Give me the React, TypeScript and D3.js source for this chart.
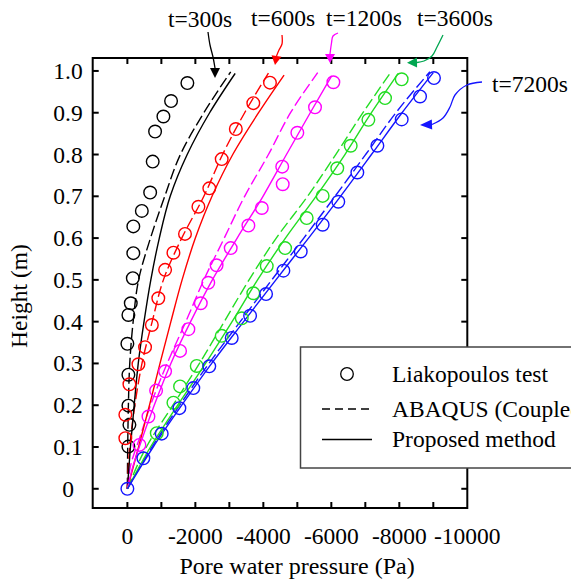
import React, { useEffect, useRef } from "react";
import * as d3 from "d3";

// each point: [height (m), pore water pressure (Pa)]
type Pt = [number, number];

const test300: Pt[] = [[0.971,-1765],[0.928,-1285],[0.891,-1060],[0.855,-815],[0.783,-745],[0.709,-670],[0.665,-425],[0.628,-175],[0.564,-175],[0.504,-160],[0.444,-100],[0.416,-30],[0.347,0],[0.273,-30],[0.199,-30],[0.153,-60],[0.101,-30]];
const abaqus300: Pt[] = [[0,0],[0.1,-10],[0.2,-30],[0.3,-70],[0.4,-170],[0.5,-330],[0.6,-680],[0.7,-1100],[0.8,-1560],[0.9,-2250],[0.998,-3040]];
const proposed300: Pt[] = [[0,0],[0.1,-90],[0.2,-200],[0.3,-320],[0.4,-490],[0.5,-690],[0.6,-940],[0.7,-1260],[0.8,-1760],[0.9,-2420],[0.994,-3170]];

const test600: Pt[] = [[0.972,-4195],[0.923,-3705],[0.861,-3190],[0.789,-2775],[0.719,-2410],[0.675,-2090],[0.61,-1695],[0.565,-1355],[0.524,-1110],[0.456,-910],[0.392,-720],[0.339,-520],[0.298,-325],[0.25,-60],[0.177,60],[0.121,60]];
const abaqus600: Pt[] = [[0,0],[0.1,-70],[0.2,-220],[0.3,-430],[0.4,-730],[0.5,-1060],[0.6,-1600],[0.7,-2250],[0.8,-2800],[0.9,-3450],[0.995,-4150]];
const proposed600: Pt[] = [[0,0],[0.1,-330],[0.2,-650],[0.3,-960],[0.4,-1280],[0.5,-1610],[0.6,-2000],[0.7,-2490],[0.8,-3100],[0.9,-3860],[0.99,-4610]];

const test1200: Pt[] = [[0.973,-6060],[0.913,-5520],[0.852,-5000],[0.771,-4555],[0.729,-4570],[0.672,-3955],[0.63,-3560],[0.576,-3040],[0.535,-2625],[0.493,-2380],[0.444,-2160],[0.382,-1795],[0.33,-1550],[0.281,-1110],[0.235,-845],[0.173,-620],[0.105,-355]];
const abaqus1200: Pt[] = [[0,0],[0.05,-80],[0.125,-375],[0.2,-680],[0.3,-1170],[0.4,-1720],[0.5,-2250],[0.6,-2850],[0.7,-3450],[0.8,-4150],[0.9,-4800],[0.996,-5600]];
const proposed1200: Pt[] = [[0,0],[0.05,-150],[0.1,-350],[0.2,-790],[0.3,-1280],[0.4,-1860],[0.5,-2500],[0.6,-3230],[0.7,-3990],[0.8,-4680],[0.9,-5380],[0.988,-6010]];

const test3600: Pt[] = [[0.98,-8070],[0.935,-7580],[0.883,-7090],[0.821,-6570],[0.767,-6175],[0.701,-5745],[0.648,-5275],[0.576,-4640],[0.533,-4100],[0.468,-3705],[0.408,-3365],[0.366,-2775],[0.294,-2040],[0.245,-1550],[0.206,-1355],[0.133,-865]];
const abaqus3600: Pt[] = [[0,0],[0.1,-560],[0.2,-1340],[0.3,-2120],[0.4,-2850],[0.5,-3580],[0.6,-4380],[0.7,-5300],[0.8,-6130],[0.9,-6930],[0.994,-7725]];
const proposed3600: Pt[] = [[0,0],[0.1,-680],[0.2,-1480],[0.3,-2300],[0.4,-3080],[0.5,-3830],[0.6,-4650],[0.7,-5550],[0.8,-6400],[0.9,-7180],[0.994,-7970]];

const test7200: Pt[] = [[0.983,-9020],[0.939,-8610],[0.884,-8070],[0.821,-7355],[0.757,-6765],[0.687,-6205],[0.632,-5745],[0.568,-5100],[0.522,-4590],[0.466,-4080],[0.414,-3610],[0.361,-3070],[0.293,-2410],[0.241,-1940],[0.193,-1530],[0.132,-1010],[0.073,-470],[0,0]];
const abaqus7200: Pt[] = [[0,0],[0.1,-720],[0.2,-1540],[0.3,-2400],[0.4,-3320],[0.5,-4250],[0.6,-5190],[0.7,-6110],[0.8,-7010],[0.9,-7900],[0.998,-8900]];
const proposed7200: Pt[] = [[0,0],[0.1,-760],[0.2,-1600],[0.3,-2480],[0.4,-3420],[0.5,-4370],[0.6,-5330],[0.7,-6270],[0.8,-7180],[0.9,-8080],[0.996,-9000]];

const timeLabels = ["t=300s", "t=600s", "t=1200s", "t=3600s", "t=7200s"];
const seriesColors = ["#000000", "#ff0000", "#ff00ff", "#22dd22", "#1414ff"];
const arrowColors = ["#000000", "#ff0000", "#ff00ff", "#00a650", "#1414ff"];
const tests = [test300, test600, test1200, test3600, test7200];
const abaqus = [abaqus300, abaqus600, abaqus1200, abaqus3600, abaqus7200];
const proposed = [proposed300, proposed600, proposed1200, proposed3600, proposed7200];

const xTickLabels = [0, -2000, -4000, -6000, -8000, -10000];
const xTickMarks = [0, -1000, -2000, -3000, -4000, -5000, -6000, -7000, -8000, -9000];
const yTicks = [0, 0.1, 0.2, 0.3, 0.4, 0.5, 0.6, 0.7, 0.8, 0.9, 1.0];
const legendLabels = ["Liakopoulos test", "ABAQUS (Coupled)", "Proposed method"];

const FONT = "Liberation Serif, Times New Roman, serif";

// annotation layout (pixels): label centre/baseline, arrow path, arrow tip
const annot = [
  { tx: 200, ty: 27, path: [[208, 32], [210, 45], [213, 57], [215, 68]], tip: [215, 78] },
  { tx: 283, ty: 26, path: [[282, 35], [282, 44], [279, 50], [276.5, 56]], tip: [275, 65] },
  { tx: 364, ty: 26, path: [[338, 33], [333, 36], [331.5, 43], [330, 54]], tip: [330, 63] },
  { tx: 455, ty: 26, path: [[443, 35], [437, 47], [432, 56], [424, 61], [417, 62.5]], tip: [407, 62.7] },
  { tx: 530, ty: 92, path: [[482, 82], [467, 85], [455, 95], [450, 107], [443, 118], [432, 124.5]], tip: [420, 125] },
];

function drawChart(el: SVGSVGElement) {
  const width = 571;
  const height = 581;
  const svg = d3.select(el).attr("width", width).attr("height", height);
  svg.selectAll("*").remove();

  const left = 92.7, right = 467.3, top = 58, bottom = 508;

  const x = d3.scaleLinear().domain([1020, -10000]).range([left, right]);
  const y = d3.scaleLinear().domain([-0.046, 1.031]).range([bottom, top]);

  svg.append("rect").attr("width", width).attr("height", height).attr("fill", "#fff");

  const line = d3.line<Pt>()
    .x(d => x(d[1]))
    .y(d => y(d[0]))
    .curve(d3.curveMonotoneY);

  const g = svg.append("g");

  abaqus.forEach((s, i) => {
    g.append("path")
      .attr("d", line(s))
      .attr("fill", "none")
      .attr("stroke", seriesColors[i])
      .attr("stroke-width", 1.4)
      .attr("stroke-dasharray", "11,4");
  });
  proposed.forEach((s, i) => {
    g.append("path")
      .attr("d", line(s))
      .attr("fill", "none")
      .attr("stroke", seriesColors[i])
      .attr("stroke-width", 1.4);
  });
  tests.forEach((s, i) => {
    g.selectAll(null)
      .data(s)
      .enter()
      .append("circle")
      .attr("cx", d => x(d[1]))
      .attr("cy", d => y(d[0]))
      .attr("r", 6.3)
      .attr("fill", "none")
      .attr("stroke", seriesColors[i])
      .attr("stroke-width", 1.4);
  });

  // frame
  svg.append("rect")
    .attr("x", left).attr("y", top)
    .attr("width", right - left).attr("height", bottom - top)
    .attr("fill", "none").attr("stroke", "#000").attr("stroke-width", 2);

  const tl = 6;
  xTickMarks.forEach(v => {
    svg.append("line").attr("x1", x(v)).attr("x2", x(v)).attr("y1", bottom).attr("y2", bottom - tl)
      .attr("stroke", "#000").attr("stroke-width", 2);
    svg.append("line").attr("x1", x(v)).attr("x2", x(v)).attr("y1", top).attr("y2", top + tl)
      .attr("stroke", "#000").attr("stroke-width", 2);
  });
  yTicks.forEach(v => {
    svg.append("line").attr("x1", left).attr("x2", left + tl).attr("y1", y(v)).attr("y2", y(v))
      .attr("stroke", "#000").attr("stroke-width", 2);
    svg.append("line").attr("x1", right).attr("x2", right - tl).attr("y1", y(v)).attr("y2", y(v))
      .attr("stroke", "#000").attr("stroke-width", 2);
  });

  const txt = (sel: any, size = 23.5) =>
    sel.style("font-family", FONT).style("font-size", size + "px").attr("fill", "#000");

  xTickLabels.forEach(v => {
    svg.append("text").call(txt)
      .attr("x", x(v)).attr("y", 544)
      .attr("text-anchor", "middle")
      .text(v === 0 ? "0" : String(v));
  });
  yTicks.forEach(v => {
    svg.append("text").call(txt)
      .attr("x", 68).attr("y", y(v) + 8)
      .attr("text-anchor", "middle")
      .text(v === 0 ? "0" : d3.format(".1f")(v));
  });

  svg.append("text").call(txt, 24)
    .attr("x", 297).attr("y", 574)
    .attr("text-anchor", "middle")
    .text("Pore water pressure (Pa)");

  svg.append("text").call(txt, 23.5)
    .attr("transform", "translate(27,296) rotate(-90)")
    .attr("text-anchor", "middle")
    .text("Height (m)");

  // time annotations with curved arrows
  const aline = d3.line().curve(d3.curveCatmullRom);
  annot.forEach((a, i) => {
    svg.append("text").call(txt)
      .attr("x", a.tx).attr("y", a.ty)
      .attr("text-anchor", "middle")
      .text(timeLabels[i]);
    svg.append("path")
      .attr("d", aline(a.path as [number, number][]))
      .attr("fill", "none")
      .attr("stroke", arrowColors[i])
      .attr("stroke-width", 1.3);
    const [bx, by] = a.path[a.path.length - 1];
    const [tx, ty] = a.tip;
    const dx = tx - bx, dy = ty - by;
    const len = Math.hypot(dx, dy);
    const nx = -dy / len * 5, ny = dx / len * 5;
    svg.append("path")
      .attr("d", `M${tx},${ty}L${bx + nx},${by + ny}L${bx - nx},${by - ny}Z`)
      .attr("fill", arrowColors[i]);
  });

  // legend (runs off the right edge, as in the original figure)
  const lg = svg.append("g");
  lg.append("rect")
    .attr("x", 300.5).attr("y", 347)
    .attr("width", 320).attr("height", 121)
    .attr("fill", "#fff").attr("stroke", "#444").attr("stroke-width", 1.5);
  lg.append("circle").attr("cx", 347).attr("cy", 374).attr("r", 6.3)
    .attr("fill", "none").attr("stroke", "#000").attr("stroke-width", 1.3);
  lg.append("line").attr("x1", 322).attr("x2", 372).attr("y1", 409).attr("y2", 409)
    .attr("stroke", "#000").attr("stroke-width", 1.3).attr("stroke-dasharray", "8,5");
  lg.append("line").attr("x1", 322).attr("x2", 372).attr("y1", 439.5).attr("y2", 439.5)
    .attr("stroke", "#000").attr("stroke-width", 1.3);
  [381.5, 416.5, 447].forEach((ty, i) => {
    lg.append("text").call(txt)
      .attr("x", 392).attr("y", ty)
      .text(legendLabels[i]);
  });
}

export default function App() {
  const ref = useRef<SVGSVGElement>(null);
  useEffect(() => {
    document.body.style.margin = "0";
    if (ref.current) drawChart(ref.current);
  }, []);
  return <svg ref={ref} style={{ display: "block" }} />;
}
